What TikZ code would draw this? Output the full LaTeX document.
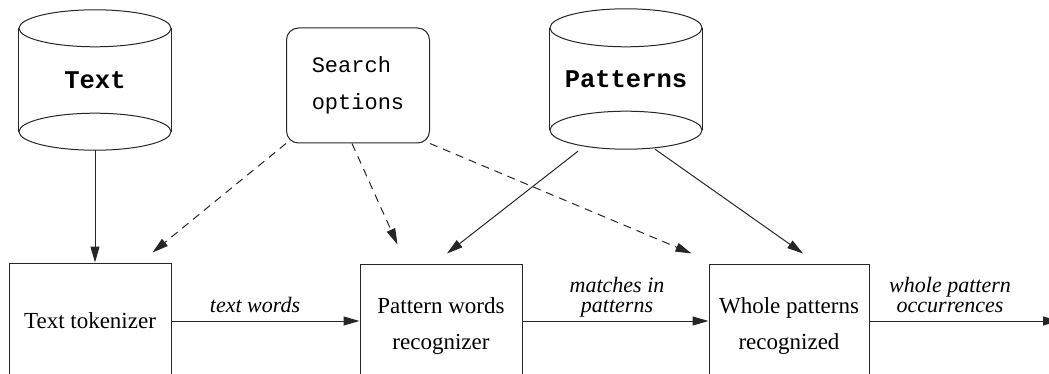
\documentclass[tikz,border=0pt]{standalone}
\usepackage{fontspec}
\setmainfont{Liberation Serif}
\setmonofont{Liberation Mono}
\usetikzlibrary{arrows.meta,calc}
\begin{document}
\begin{tikzpicture}[x=1pt,y=-1pt,
  line/.style={line width=1pt, draw=black!85},
  arr/.style={line, -{Triangle[length=16pt,width=9pt]}},
  darr/.style={arr, dash pattern=on 8pt off 6pt},
  box/.style={line, rectangle, minimum width=162pt, minimum height=116pt, align=center, font=\fontsize{23}{36}\selectfont, inner sep=0pt},
  dbnode/.style={rectangle, minimum width=152pt, minimum height=140pt, inner sep=0pt, font=\fontsize{25.5}{30}\selectfont\ttfamily\bfseries},
  optbox/.style={line, rectangle, rounded corners=12pt, minimum width=143pt, minimum height=115pt, align=left, font=\fontsize{22}{37}\selectfont\ttfamily},
  lab/.style={font=\fontsize{22}{20}\selectfont\itshape, align=center, inner sep=0pt, anchor=base}
]
\useasboundingbox (0,0) rectangle (1049,374);

% cylinders
\node[dbnode] (tdb) at (95,80) {Text};
\draw[line] ($(tdb.north)+(0,18.5)$) ellipse [x radius=76, y radius=18.5];
\draw[line] ($(tdb.south)+(0,-18.5)$) ellipse [x radius=76, y radius=18.5];
\draw[line] ($(tdb.north west)+(0,18.5)$) -- ($(tdb.south west)+(0,-18.5)$);
\draw[line] ($(tdb.north east)+(0,18.5)$) -- ($(tdb.south east)+(0,-18.5)$);

\node[dbnode] (pdb) at (626,79) {Patterns};
\draw[line] ($(pdb.north)+(0,19)$) ellipse [x radius=76, y radius=19];
\draw[line] ($(pdb.south)+(0,-19)$) ellipse [x radius=76, y radius=19];
\draw[line] ($(pdb.north west)+(0,19)$) -- ($(pdb.south west)+(0,-19)$);
\draw[line] ($(pdb.north east)+(0,19)$) -- ($(pdb.south east)+(0,-19)$);

% search options
\node[optbox] (so) at (358,85.5) {Search\\options};

% process boxes
\node[box] (tok) at (90,321) {Text tokenizer};
\node[box, minimum height=124pt] (pwr) at (441,326) {Pattern words\\recognizer};
\node[box, minimum height=124pt, minimum width=160pt] (wpr) at (789,326) {Whole patterns\\recognized};
\coordinate (out) at (1059,321);

% solid arrows
\draw[arr] (tdb.south) -- (tdb.south |- tok.north);
\draw[arr] ($(pdb.south)+(-48,2)$) -- ($(pwr.north)+(6,-10)$);
\draw[arr] ($(pdb.south)+(29,0)$) -- ($(wpr.north)+(14,-10)$);

% dashed arrows
\draw[darr] (so.south west) -- ($(tok.north east)+(-19,-10)$);
\draw[darr] ($(so.south)+(-6,0)$) -- ($(pwr.north west)+(38,-19)$);
\draw[darr] (so.south east) -- ($(wpr.north west)+(-17,-10)$);

% horizontal flow
\draw[arr] (tok.east) -- (tok.east -| pwr.west);
\draw[arr] (pwr.east |- tok.east) -- (tok.east -| wpr.west);
\draw[arr] (wpr.east |- tok.east) -- (out);

% labels
\node[lab] (l1) at (255,312) {text words};
\node[lab] (l2) at (617,312) {matches in\\patterns};
\node[lab] (l3) at (950,312) {whole pattern\\occurrences};
\end{tikzpicture}
\end{document}
